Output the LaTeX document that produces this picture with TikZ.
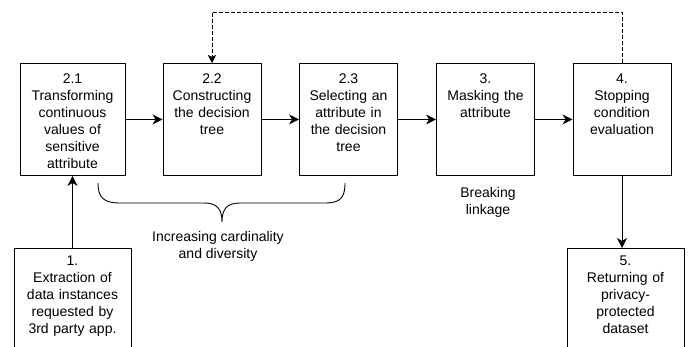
\documentclass[tikz,border=0pt]{standalone}
\usepackage{fontspec}
\setmainfont{Liberation Sans}
\usetikzlibrary{arrows.meta}

\tikzset{
  stepbox/.style={draw, line width=0.9pt, align=center, anchor=north,
    inner xsep=2pt, inner ysep=0pt, text width=94pt,
    text height=20pt, text depth=92pt,
    font=\fontsize{14}{17}\selectfont},
  endbox/.style={stepbox, text width=113pt, text height=17pt, text depth=85pt},
  flow/.style={line width=0.9pt, -{Stealth[length=10pt,width=10pt,inset=3pt]}},
  back/.style={line width=0.6pt, dash pattern=on 4pt off 2pt,
    -{Stealth[length=8pt,width=8pt,inset=2pt]}},
  note/.style={align=center, font=\fontsize{14}{17}\selectfont}
}

\begin{document}
\begin{tikzpicture}[x=1pt,y=1pt]

\useasboundingbox (0,0) rectangle (690,-347);

% upper row
\node[stepbox, text width=101pt] (b21) at (72.5,-63) {2.1\\Transforming\\continuous\\values of\\sensitive\\attribute};
\node[stepbox] (b22) at (212,-63) {2.2\\Constructing\\the decision\\tree};
\node[stepbox] (b23) at (348.5,-63) {2.3\\Selecting an\\attribute in\\the decision\\tree};
\node[stepbox] (b3) at (485.5,-63) {3.\\Masking the\\attribute};
\node[stepbox] (b4) at (622,-63) {4.\\Stopping\\condition\\evaluation};

% lower boxes
\node[endbox] (b1) at (72.5,-248) {1.\\Extraction of\\data instances\\requested by\\3rd party app.};
\node[endbox] (b5) at (625.5,-248) {5.\\Returning of\\privacy-\\protected\\dataset};

\draw[flow] (b21.east) -- (b22.west);
\draw[flow] (b22.east) -- (b23.west);
\draw[flow] (b23.east) -- (b3.west);
\draw[flow] (b3.east) -- (b4.west);
\draw[flow] (b1.north) -- (b21.south);
\draw[flow] (b4.south) -- (b4.south |- b5.north);

% loop back
\coordinate (top) at (622,-12);
\draw[back] (b4.north) -- (top) -| (b22.north);

% brace under 2.1 -- 2.3
\draw[line width=0.9pt] (98,-183) .. controls (98,-198) and (104,-203) .. (120,-203)
  -- (204,-203) .. controls (217,-203) and (222,-209) .. (222,-222)
  .. controls (222,-209) and (227,-203) .. (240,-203)
  -- (325,-203) .. controls (340,-203) and (345,-198) .. (345,-183);

\node[note] (incr) at (218,-246) {Increasing cardinality\\and diversity};
\node[note] (brk) at (488,-202) {Breaking\\linkage};

\end{tikzpicture}
\end{document}
